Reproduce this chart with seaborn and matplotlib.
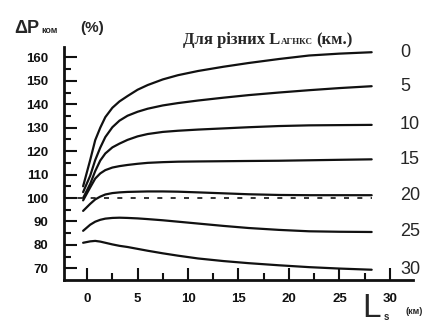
import matplotlib
matplotlib.use("Agg")
import matplotlib.pyplot as plt
import pandas as pd
import seaborn as sns

dist = [-0.4, 0.3, 0.8, 1.3, 1.8, 2.5, 3.2, 4.0, 5.0, 6.0, 7.5, 9.0, 11, 13.5, 16, 19, 22, 25, 28.2]

# dP_kom (%) for each L_AGNKS (km)
p_0 = [105, 116.2, 124.7, 130, 134.5, 138.5, 141.2, 143.5, 146.2, 148.2, 150.6, 152.4, 154.2, 156, 157.6, 159.3, 160.8, 161.6, 162.2]
p_5 = [102.5, 109.5, 116.2, 121.5, 126, 130.2, 133, 135.1, 136.8, 138.1, 139.5, 140.5, 141.6, 142.8, 143.9, 145, 146, 146.9, 147.7]
p_10 = [100, 106, 111.5, 116, 119, 121.6, 123.2, 124.8, 126.3, 127.3, 128.2, 128.7, 129.2, 129.7, 130.2, 130.7, 131, 131.1, 131.2]
p_15 = [99, 104.5, 108.3, 110.5, 111.9, 113, 113.6, 114.1, 114.6, 115, 115.3, 115.5, 115.6, 115.7, 115.8, 115.9, 116.1, 116.3, 116.5]
p_20 = [94.5, 97.5, 99.4, 100.6, 101.5, 102.1, 102.4, 102.6, 102.7, 102.8, 102.8, 102.7, 102.4, 102, 101.6, 101.3, 101.2, 101.2, 101.2]
p_25 = [86, 88.6, 89.9, 90.7, 91.2, 91.5, 91.6, 91.5, 91.3, 91, 90.5, 89.9, 89.1, 88.1, 87.2, 86.4, 85.8, 85.6, 85.5]
p_30 = [80.9, 81.5, 81.7, 81.4, 80.9, 80.2, 79.6, 79.1, 78.3, 77.5, 76.4, 75.4, 74.2, 73.1, 72.2, 71.3, 70.5, 69.9, 69.4]

curve_labels = ['0', '5', '10', '15', '20', '25', '30']
curves = [p_0, p_5, p_10, p_15, p_20, p_25, p_30]
x_ticks = [0, 5, 10, 15, 20, 25, 30]
y_ticks = [70, 80, 90, 100, 110, 120, 130, 140, 150, 160]

rows = []
for lab, vals in zip(curve_labels, curves):
    for d, v in zip(dist, vals):
        rows.append({'L_s': d, 'dP': v, 'L_agnks': lab})
df = pd.DataFrame(rows)

sns.set_style('ticks')
plt.rcParams['font.family'] = ['Liberation Sans', 'DejaVu Sans']

fig = plt.figure(figsize=(4.38, 3.23), dpi=100, facecolor='white')
ax = fig.add_axes([0.146, 0.133, 0.797, 0.722])

sns.lineplot(data=df, x='L_s', y='dP', hue='L_agnks', palette=['#111111'] * 7,
             linewidth=1.6, legend=False, ax=ax)
ax.plot([-2.3, 28.2], [100, 100], color='#111111', linewidth=1.2, linestyle=(0, (3, 5)))

# curve labels on the right
for lab, vals in zip(curve_labels, curves):
    ax.text(31.0, vals[-1], lab, fontsize=13, va='center', ha='left', clip_on=False)

ax.set_xlim(-2.3, 32.3)
ax.set_ylim(65, 164.5)
ax.set_xticks(x_ticks)
ax.set_yticks(y_ticks)
ax.set_xticks([2.5, 7.5, 12.5, 17.5, 22.5, 27.5], minor=True)
ax.set_yticks([75, 85, 95, 105, 115, 125, 135, 145, 155], minor=True)
ax.tick_params(which='major', direction='in', length=9, width=1.5, colors='#111111')
ax.tick_params(which='minor', direction='in', length=5, width=1.5, colors='#111111')
ax.tick_params(axis='x', pad=9)
ax.tick_params(axis='y', pad=11)
for t in ax.get_xticklabels() + ax.get_yticklabels():
    t.set_fontweight('bold')
    t.set_fontsize(9.5)
ax.set_xlabel('')
ax.set_ylabel('')
sns.despine(ax=ax)
for s in ['left', 'bottom']:
    ax.spines[s].set_linewidth(2)
    ax.spines[s].set_color('#111111')

# y axis caption
fig.text(14 / 438, 1 - 33 / 323, 'ΔP', fontsize=13, fontweight='bold', va='baseline')
fig.text(41 / 438, 1 - 33 / 323, 'ком', fontsize=6.5, fontweight='bold', va='baseline')
fig.text(80 / 438, 1 - 32 / 323, '(%)', fontsize=11, fontweight='bold', va='baseline')

# title
fig.text(183 / 438, 1 - 44 / 323, 'Для різних L', fontsize=12, fontweight='bold',
         family='Liberation Serif', va='baseline')
fig.text(281 / 438, 1 - 44 / 323, 'АГНКС', fontsize=6.5, fontweight='bold',
         family='Liberation Serif', va='baseline')
fig.text(316 / 438, 1 - 44 / 323, '(км.)', fontsize=12, fontweight='bold',
         family='Liberation Serif', va='baseline')

# x axis caption
fig.text(362 / 438, 1 - 317 / 323, 'L', fontsize=24, va='baseline')
fig.text(384 / 438, 1 - 320 / 323, 's', fontsize=7, fontweight='bold', va='baseline')
fig.text(406 / 438, 1 - 314 / 323, '(км)', fontsize=6.5, fontweight='bold', va='baseline')

fig.savefig('out.png', dpi=100)
